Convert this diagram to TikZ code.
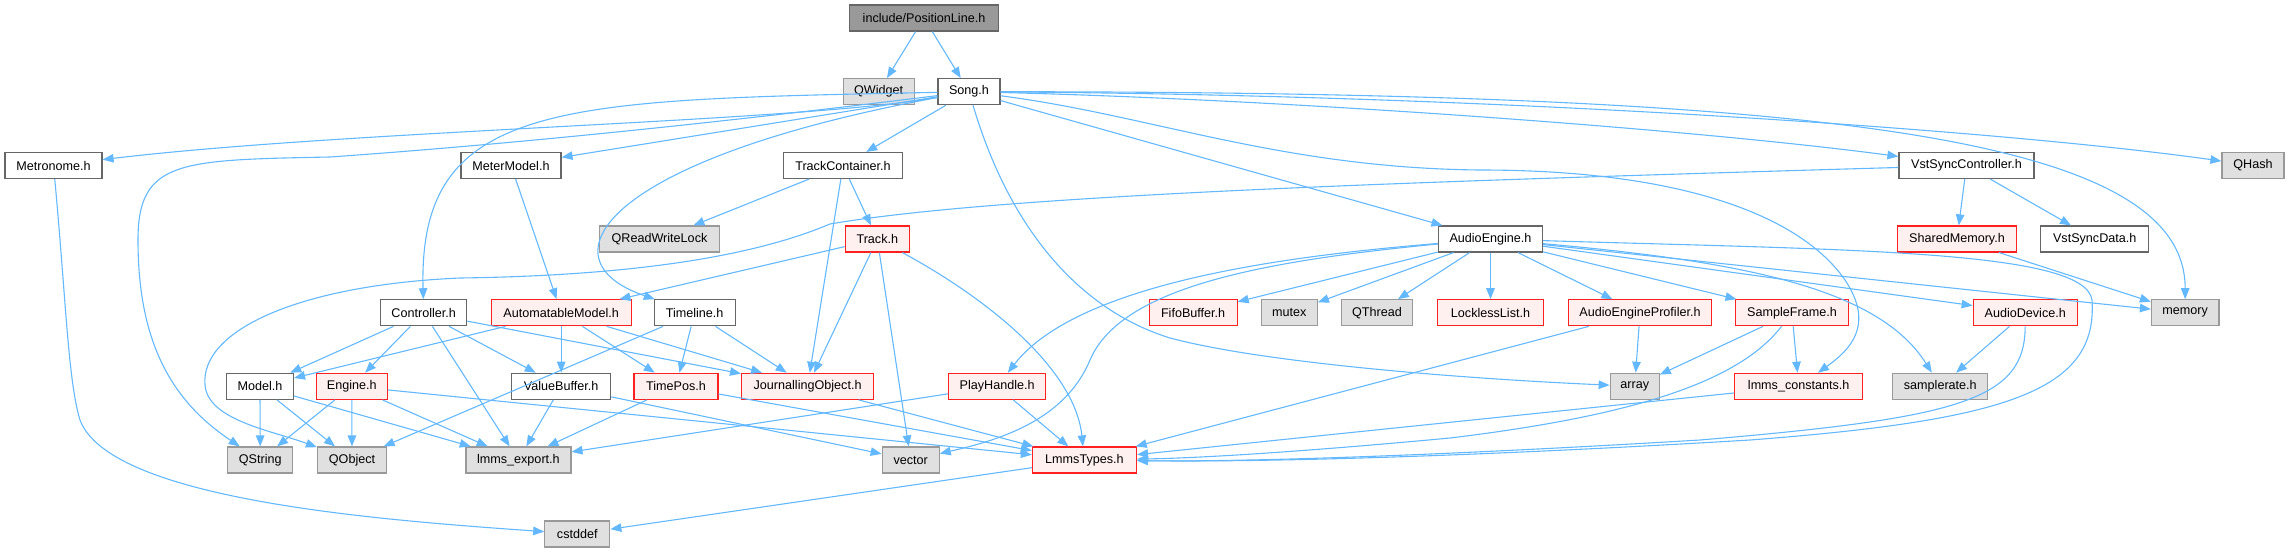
\documentclass[tikz,border=0pt]{standalone}
\usepackage{fontspec}
\setmainfont{Liberation Sans}
\usetikzlibrary{arrows.meta}
\definecolor{edgeblue}{HTML}{63B8FF}
\definecolor{bordgray}{HTML}{666666}
\definecolor{extborder}{HTML}{999999}
\definecolor{extfill}{HTML}{E0E0E0}
\definecolor{redfill}{HTML}{FFF0F0}
\definecolor{redborder}{HTML}{FF2020}
\definecolor{topfill}{HTML}{999999}
\begin{document}
\begin{tikzpicture}[x=1pt,y=-1pt,
  font=\fontsize{12.6}{14}\selectfont,
  box/.style={draw, rectangle, minimum height=26pt, inner sep=0pt, line width=1.2pt},
  bw/.style={minimum width=#1},
  wn/.style={box, draw=bordgray, fill=white},
  rn/.style={box, draw=redborder, fill=redfill},
  gn/.style={box, draw=extborder, fill=extfill},
  tn/.style={box, draw=bordgray, fill=topfill},
  edg/.style={draw=edgeblue, line width=1.1pt, -{Triangle[length=11pt,width=8.5pt]}}]
\useasboundingbox (0,0) rectangle (2290,552);

% row 0
\node[tn, bw=149pt] (pl) at (924,18) {include/PositionLine.h};
% row 1
\node[gn, bw=71pt] (qwidget) at (878.6,91.7) {QWidget};
\node[wn, bw=62pt] (song) at (969,91.7) {Song.h};
% row 2
\node[wn, bw=97pt] (met) at (53.5,165.5) {Metronome.h};
\node[wn, bw=100pt] (meter) at (511,165.5) {MeterModel.h};
\node[wn, bw=119pt] (tc) at (843,165.5) {TrackContainer.h};
\node[wn, bw=135pt] (vsc) at (1966.5,165.5) {VstSyncController.h};
\node[gn, bw=62pt] (qhash) at (2253,165.5) {QHash};
% row 3
\node[gn, bw=120pt] (qrwl) at (659.5,239) {QReadWriteLock};
\node[rn, bw=64pt] (track) at (877.3,239) {Track.h};
\node[wn, bw=104pt] (ae) at (1490.5,239) {AudioEngine.h};
\node[rn, bw=119pt] (shm) at (1957,239) {SharedMemory.h};
\node[wn, bw=108pt] (vsd) at (2094.7,239) {VstSyncData.h};
% row 4
\node[wn, bw=86pt] (ctrl) at (423.7,312.8) {Controller.h};
\node[rn, bw=140pt] (am) at (561.2,312.8) {AutomatableModel.h};
\node[wn, bw=81pt] (tl) at (694.6,312.8) {Timeline.h};
\node[rn, bw=88pt] (fifo) at (1193.1,312.8) {FifoBuffer.h};
\node[gn, bw=56pt] (mutex) at (1289.3,312.8) {mutex};
\node[gn, bw=71pt] (qthread) at (1377,312.8) {QThread};
\node[rn, bw=106pt] (ll) at (1490.5,312.8) {LocklessList.h};
\node[rn, bw=143pt] (aep) at (1640,312.8) {AudioEngineProfiler.h};
\node[rn, bw=113pt] (sf) at (1792,312.8) {SampleFrame.h};
\node[rn, bw=104pt] (ad) at (2025.2,312.8) {AudioDevice.h};
\node[gn, bw=67.5pt] (mem) at (2185.2,312.8) {memory};
% row 5
\node[wn, bw=67pt] (model) at (260,386.3) {Model.h};
\node[rn, bw=71pt] (engine) at (351.8,386.3) {Engine.h};
\node[wn, bw=99pt] (vb) at (561.2,386.3) {ValueBuffer.h};
\node[rn, bw=84pt] (tp) at (676,386.3) {TimePos.h};
\node[rn, bw=132pt] (jo) at (807.6,386.3) {JournallingObject.h};
\node[rn, bw=97pt] (ph) at (997.2,386.3) {PlayHandle.h};
\node[gn, bw=49pt] (arr) at (1634.7,386.3) {array};
\node[rn, bw=128pt] (lc) at (1798.7,386.3) {lmms\_constants.h};
\node[gn, bw=95pt] (sr) at (1940.3,386.3) {samplerate.h};
% row 6
\node[gn, bw=65pt] (qstring) at (260.2,460) {QString};
\node[gn, bw=69pt] (qobject) at (352,460) {QObject};
\node[gn, bw=105pt] (lexp) at (518.4,460) {lmms\_export.h};
\node[gn, bw=57pt] (vec) at (910.7,460) {vector};
\node[rn, bw=104pt] (lt) at (1084.4,460) {LmmsTypes.h};
% row 7
\node[gn, bw=65pt] (cstddef) at (577.3,534) {cstddef};

% PositionLine
\draw[edg] (pl) -- (qwidget);
\draw[edg] (pl) -- (song);
% Song
\draw[edg] (song) .. controls (800,122) and (350,130) .. (met);
\draw[edg] (song) -- (meter);
\draw[edg] (song) -- (tc);
\draw[edg] (song) .. controls (1300,100) and (1700,130) .. (vsc);
\draw[edg] (song) .. controls (1500,95) and (2000,130) .. (qhash);
\draw[edg] (song) .. controls (1850,92) and (2185,140) .. (mem);
\draw[edg] (song) -- (ae);
\draw[edg] (song) .. controls (560,100) and (418,100) .. (ctrl);
\draw[edg] (song) .. controls (600,160) and (540,260) .. (tl);
\draw[edg] (song) .. controls (700,125) and (500,145) .. (330,157)
  .. controls (180,160) and (138,160) .. (138,240)
  .. controls (138,340) and (170,400) .. (qstring);
\draw[edg] (song) .. controls (1010,230) and (1080,310) .. (1170,338)
  .. controls (1260,362) and (1450,378) .. (arr);
\draw[edg] (song) .. controls (1150,115) and (1280,168) .. (1480,170)
  .. controls (1680,170) and (1800,215) .. (1845,280)
  .. controls (1875,325) and (1850,350) .. (lc);
% Metronome
\draw[edg] (met) .. controls (66,300) and (68,380) .. (80,420)
  .. controls (110,500) and (380,520) .. (cstddef);
% MeterModel
\draw[edg] (meter) -- (am);
% TrackContainer
\draw[edg] (tc) -- (qrwl);
\draw[edg] (tc) -- (track);
\draw[edg] (tc) -- (jo);
% Track
\draw[edg] (track) -- (am);
\draw[edg] (track) -- (jo);
\draw[edg] (track) -- (vec);
\draw[edg] (track) .. controls (990,300) and (1075,370) .. (lt);
% VstSyncController
\draw[edg] (vsc) -- (shm);
\draw[edg] (vsc) -- (vsd);
\draw[edg] (vsc) .. controls (1400,182) and (1000,195) .. (830,224)
  .. controls (780,245) and (680,275) .. (460,278)
  .. controls (300,285) and (200,330) .. (205,385)
  .. controls (208,420) and (270,430) .. (qobject);
% SharedMemory
\draw[edg] (shm) -- (mem);
% AudioEngine
\draw[edg] (ae) -- (fifo);
\draw[edg] (ae) -- (mutex);
\draw[edg] (ae) -- (qthread);
\draw[edg] (ae) -- (ll);
\draw[edg] (ae) -- (aep);
\draw[edg] (ae) -- (sf);
\draw[edg] (ae) -- (ad);
\draw[edg] (ae) -- (mem);
\draw[edg] (ae) .. controls (1750,262) and (1880,290) .. (sr);
\draw[edg] (ae) .. controls (1300,255) and (1080,280) .. (ph);
\draw[edg] (ae) .. controls (1250,262) and (1120,290) .. (1090,360)
  .. controls (1065,420) and (1000,440) .. (vec);
\draw[edg] (ae) .. controls (1850,250) and (2085,250) .. (2092,300)
  .. controls (2098,390) and (2010,420) .. (1750,440)
  .. controls (1450,458) and (1250,462) .. (lt);
% AudioEngineProfiler
\draw[edg] (aep) -- (arr);
\draw[edg] (aep) -- (lt);
% SampleFrame
\draw[edg] (sf) -- (arr);
\draw[edg] (sf) -- (lc);
\draw[edg] (sf) .. controls (1740,380) and (1640,415) .. (1450,438)
  .. controls (1300,452) and (1200,458) .. (lt);
% lmms_constants
\draw[edg] (lc) -- (lt);
% AudioDevice
\draw[edg] (ad) -- (sr);
\draw[edg] (ad) .. controls (2025,400) and (1960,418) .. (1700,440)
  .. controls (1450,455) and (1250,462) .. (lt);
% Controller
\draw[edg] (ctrl) -- (model);
\draw[edg] (ctrl) -- (engine);
\draw[edg] (ctrl) -- (lexp);
\draw[edg] (ctrl) -- (vb);
\draw[edg] (ctrl) -- (jo);
% AutomatableModel
\draw[edg] (am) -- (model);
\draw[edg] (am) -- (vb);
\draw[edg] (am) -- (tp);
\draw[edg] (am) -- (jo);
% Timeline
\draw[edg] (tl) -- (qobject);
\draw[edg] (tl) -- (tp);
\draw[edg] (tl) -- (jo);
% Model
\draw[edg] (model) -- (qstring);
\draw[edg] (model) -- (qobject);
\draw[edg] (model) -- (lexp);
% Engine
\draw[edg] (engine) -- (qstring);
\draw[edg] (engine) -- (qobject);
\draw[edg] (engine) -- (lexp);
\draw[edg] (engine) -- (lt);
% ValueBuffer
\draw[edg] (vb) -- (lexp);
\draw[edg] (vb) -- (vec);
% TimePos
\draw[edg] (tp) -- (lexp);
\draw[edg] (tp) -- (lt);
% JournallingObject
\draw[edg] (jo) -- (lt);
% PlayHandle
\draw[edg] (ph) -- (lexp);
\draw[edg] (ph) -- (lt);
% LmmsTypes
\draw[edg] (lt) -- (cstddef);
\end{tikzpicture}
\end{document}
